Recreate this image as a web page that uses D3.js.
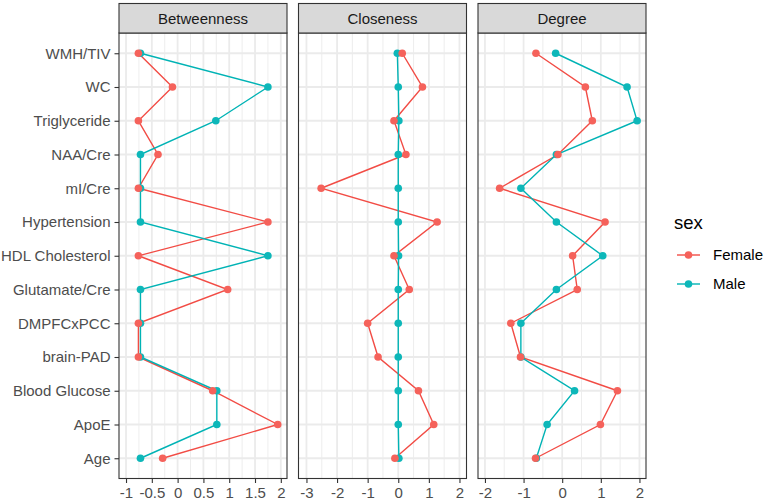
<!DOCTYPE html>
<html lang="en">
<head>
<meta charset="utf-8">
<script src="https://d3js.org/d3.v7.min.js"></script>
<style>
  body { margin: 0; background: #fff; }
  text { font-family: "Liberation Sans", Arial, sans-serif; }
</style>
</head>
<body>
<div id="chart"></div>
<script>
// rows, top to bottom
var categories = ["WMH/TIV", "WC", "Triglyceride", "NAA/Cre", "mI/Cre", "Hypertension",
  "HDL Cholesterol", "Glutamate/Cre", "DMPFCxPCC", "brain-PAD", "Blood Glucose", "ApoE", "Age"];

var measures = ["Betweenness", "Closeness", "Degree"];
var sexes = ["Female", "Male"];

var betweenFemale = [-0.76, -0.10, -0.76, -0.38, -0.76, 1.75, -0.76, 0.97, -0.76, -0.76, 0.68, 1.94, -0.29];
var betweenMale   = [-0.72, 1.75, 0.74, -0.72, -0.72, -0.72, 1.75, -0.72, -0.72, -0.72, 0.76, 0.76, -0.72];

var closeFemale = [0.13, 0.79, -0.14, 0.25, -2.52, 1.27, -0.14, 0.36, -1.00, -0.66, 0.66, 1.16, -0.11];
var closeMale   = [-0.03, 0.00, 0.02, 0.00, 0.00, 0.00, 0.01, 0.00, 0.00, 0.00, 0.00, 0.00, 0.02];

var degreeFemale = [-0.68, 0.60, 0.78, -0.11, -1.62, 1.11, 0.27, 0.39, -1.33, -1.08, 1.43, 0.99, -0.69];
var degreeMale   = [-0.17, 1.68, 1.94, -0.15, -1.07, -0.15, 1.05, -0.15, -1.07, -1.07, 0.32, -0.39, -0.67];

var betweenTicks = [-1, -0.5, 0, 0.5, 1, 1.5, 2];
var closeTicks = [-3, -2, -1, 0, 1, 2];
var degreeTicks = [-2, -1, 0, 1, 2];

var seriesByMeasure = {
  Betweenness: [betweenFemale, betweenMale],
  Closeness: [closeFemale, closeMale],
  Degree: [degreeFemale, degreeMale]
};
var ticksByMeasure = { Betweenness: betweenTicks, Closeness: closeTicks, Degree: degreeTicks };

// panel x limits
var domains = {
  Betweenness: [-1.136, 2.12],
  Closeness: [-3.26, 2.23],
  Degree: [-2.18, 2.17]
};

var W = 765, H = 502;
var panelLeft = [119, 298.5, 478];
var panelW = 168;
var stripTop = 3.5, panelTop = 33, panelBottom = 478.5;
var fs = 15;

var color = d3.scaleOrdinal().domain(sexes).range(["#F5625B", "#0DB7B9"]);
var lineColor = d3.scaleOrdinal().domain(sexes).range(["#F24C45", "#00B3B5"]);

var y = d3.scalePoint()
  .domain(categories)
  .range([panelTop, panelBottom])
  .padding(0.6);

var svg = d3.select("#chart").append("svg")
  .attr("width", W)
  .attr("height", H);

measures.forEach(function (m, pi) {
  var x0 = panelLeft[pi];
  var x = d3.scaleLinear().domain(domains[m]).range([x0, x0 + panelW]);
  var ticks = ticksByMeasure[m];
  var step = ticks[1] - ticks[0];
  var minor = [];
  ticks.forEach(function (t) {
    var v = t + step / 2;
    if (v < domains[m][1]) minor.push(v);
  });

  var g = svg.append("g");

  g.append("rect")
    .attr("x", x0).attr("y", panelTop)
    .attr("width", panelW).attr("height", panelBottom - panelTop)
    .attr("fill", "#fff");

  // minor grid
  g.selectAll(".minor").data(minor).enter().append("line")
    .attr("x1", function (d) { return x(d); })
    .attr("x2", function (d) { return x(d); })
    .attr("y1", panelTop).attr("y2", panelBottom)
    .attr("stroke", "#EBEBEB").attr("stroke-width", 0.9);

  // major grid
  g.selectAll(".majorx").data(ticks).enter().append("line")
    .attr("x1", function (d) { return x(d); })
    .attr("x2", function (d) { return x(d); })
    .attr("y1", panelTop).attr("y2", panelBottom)
    .attr("stroke", "#EBEBEB").attr("stroke-width", 1.8);

  g.selectAll(".majory").data(categories).enter().append("line")
    .attr("x1", x0).attr("x2", x0 + panelW)
    .attr("y1", function (d) { return y(d); })
    .attr("y2", function (d) { return y(d); })
    .attr("stroke", "#EBEBEB").attr("stroke-width", 1.8);

  var line = d3.line()
    .x(function (d) { return x(d.value); })
    .y(function (d) { return y(d.cat); });

  var series = seriesByMeasure[m].map(function (vals, si) {
    return {
      sex: sexes[si],
      points: vals.map(function (v, i) { return { cat: categories[i], value: v }; })
    };
  });

  series.forEach(function (s) {
    g.append("path")
      .datum(s.points)
      .attr("d", line)
      .attr("fill", "none")
      .attr("stroke", lineColor(s.sex))
      .attr("stroke-width", 1.4);
  });

  [series[1], series[0]].forEach(function (s) {
    g.selectAll(null).data(s.points).enter().append("circle")
      .attr("cx", function (d) { return x(d.value); })
      .attr("cy", function (d) { return y(d.cat); })
      .attr("r", 3.8)
      .attr("fill", color(s.sex));
  });

  // border
  g.append("rect")
    .attr("x", x0).attr("y", panelTop)
    .attr("width", panelW).attr("height", panelBottom - panelTop)
    .attr("fill", "none").attr("stroke", "#333333").attr("stroke-width", 1.1);

  // strip
  g.append("rect")
    .attr("x", x0).attr("y", stripTop)
    .attr("width", panelW).attr("height", panelTop - stripTop)
    .attr("fill", "#D9D9D9").attr("stroke", "#333333").attr("stroke-width", 1.1);
  g.append("text")
    .attr("x", x0 + panelW / 2).attr("y", 23.7)
    .attr("text-anchor", "middle")
    .attr("font-size", fs)
    .attr("fill", "#1A1A1A")
    .text(m);

  // x axis
  var xAxis = d3.axisBottom(x)
    .tickValues(ticks)
    .tickSize(4.5)
    .tickPadding(4)
    .tickFormat(function (d) { return String(d); });
  var ax = svg.append("g")
    .attr("transform", "translate(0," + panelBottom + ")")
    .call(xAxis);
  ax.select(".domain").remove();
  ax.selectAll(".tick line").attr("stroke", "#333333").attr("stroke-width", 1.1);
  ax.selectAll(".tick text")
    .attr("font-size", fs)
    .attr("fill", "#4D4D4D")
    .attr("font-family", "Liberation Sans, Arial, sans-serif");
});

// y axis
var yAxis = d3.axisLeft(y).tickSize(4.5).tickPadding(4);
var ay = svg.append("g")
  .attr("transform", "translate(" + panelLeft[0] + ",0)")
  .call(yAxis);
ay.select(".domain").remove();
ay.selectAll(".tick line").attr("stroke", "#333333").attr("stroke-width", 1.1);
ay.selectAll(".tick text")
  .attr("font-size", fs)
  .attr("fill", "#4D4D4D")
  .attr("font-family", "Liberation Sans, Arial, sans-serif");

// legend
var legend = svg.append("g");
legend.append("text")
  .attr("x", 674).attr("y", 229)
  .attr("font-size", 18.5)
  .attr("fill", "#000")
  .text("sex");

sexes.forEach(function (s, i) {
  var cy = 255 + i * 29;
  legend.append("line")
    .attr("x1", 677).attr("x2", 700)
    .attr("y1", cy).attr("y2", cy)
    .attr("stroke", lineColor(s)).attr("stroke-width", 1.4);
  legend.append("circle")
    .attr("cx", 688.5).attr("cy", cy).attr("r", 3.8)
    .attr("fill", color(s));
  legend.append("text")
    .attr("x", 713).attr("y", cy + 5.3)
    .attr("font-size", fs)
    .attr("fill", "#000")
    .text(s);
});
</script>
</body>
</html>
